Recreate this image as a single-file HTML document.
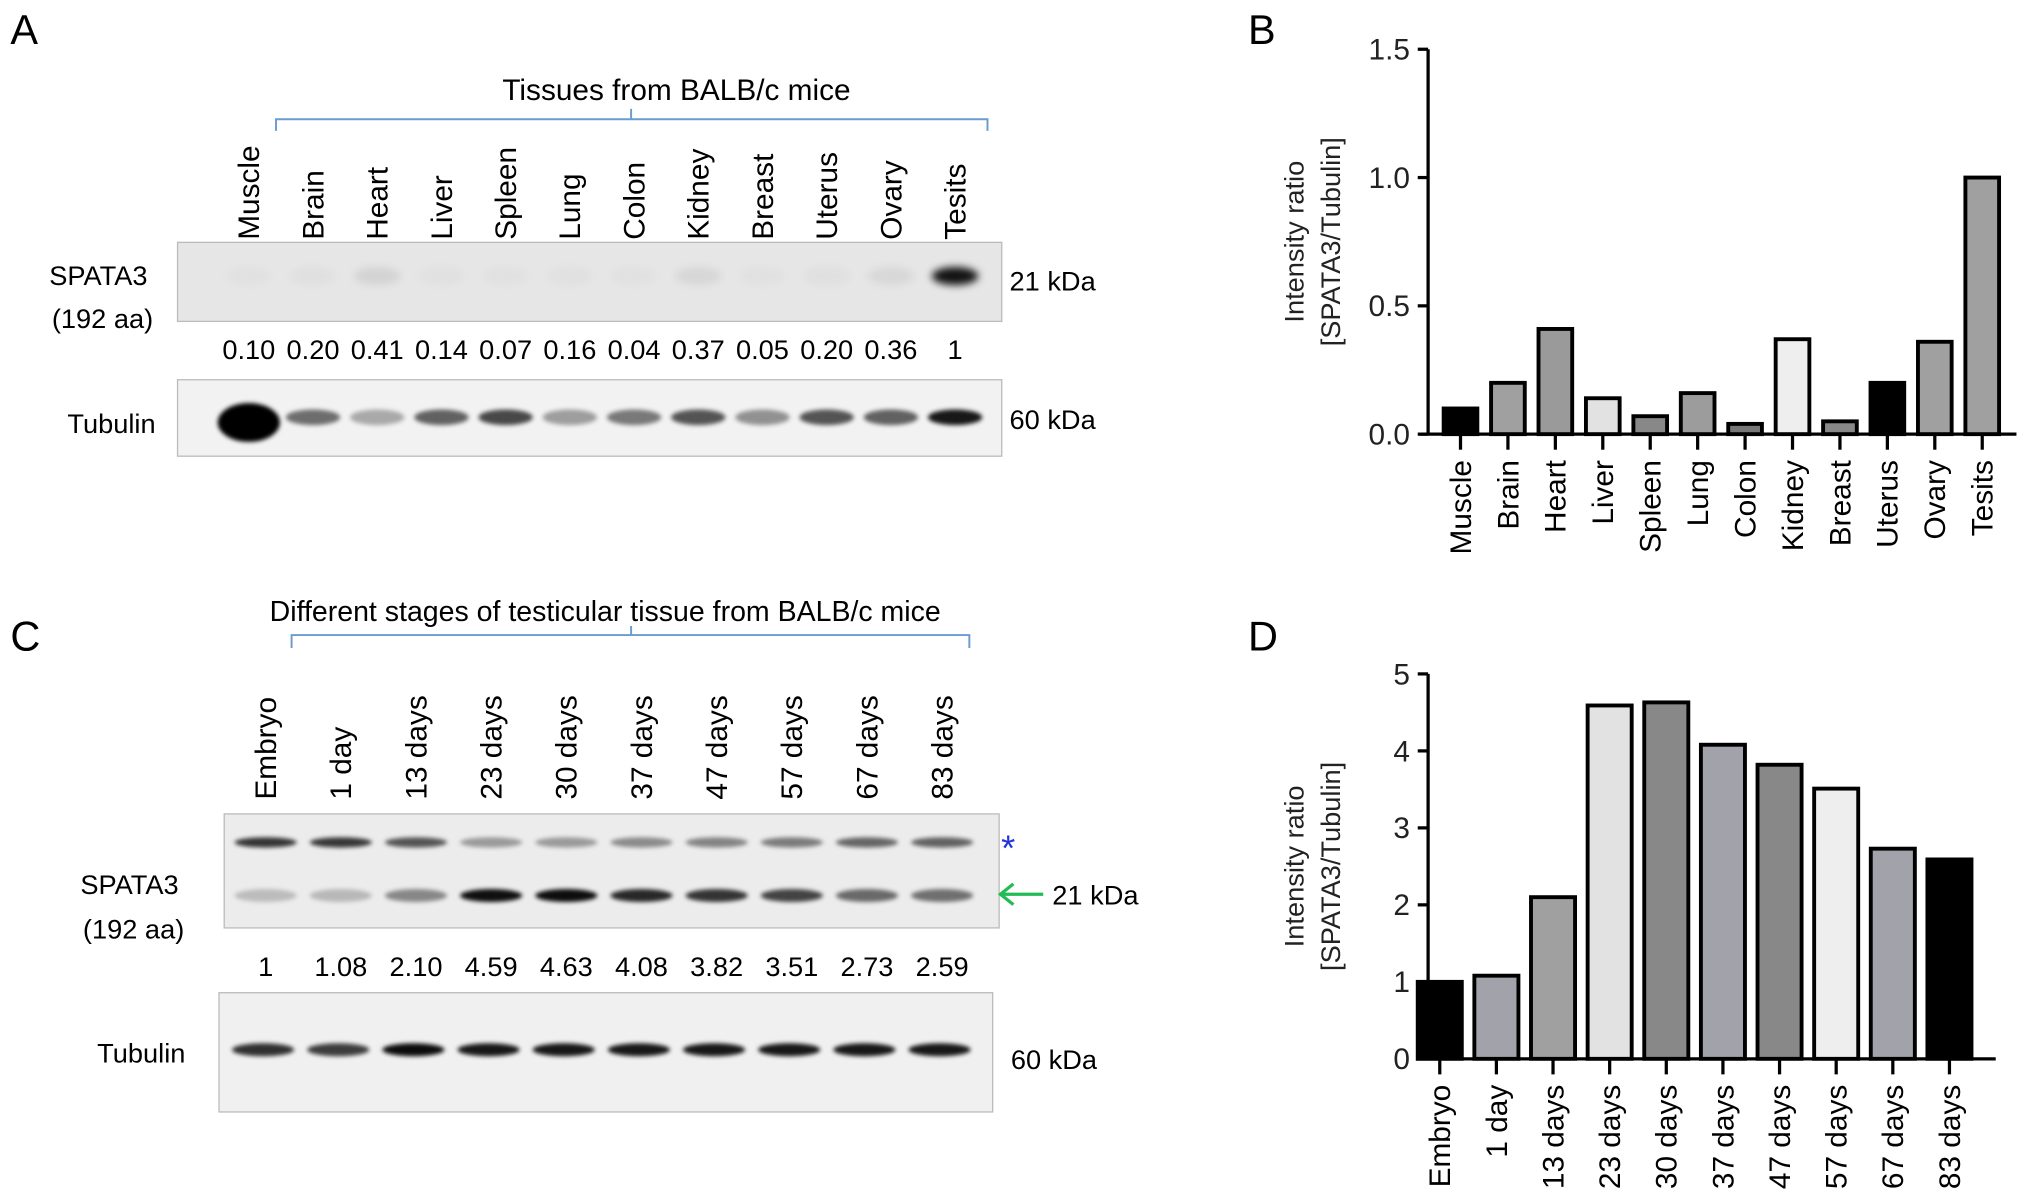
<!DOCTYPE html>
<html><head><meta charset="utf-8"><style>
html,body{margin:0;padding:0;background:#fff;}
svg{display:block;font-family:"Liberation Sans",Arial,sans-serif;}
</style></head><body>
<svg id="fig" width="2032" height="1201" viewBox="0 0 1568 926.7" preserveAspectRatio="none" xmlns="http://www.w3.org/2000/svg">
<defs><filter id="blur" x="-50%" y="-100%" width="200%" height="300%"><feGaussianBlur stdDeviation="3"/></filter>
<filter id="blur2" x="-50%" y="-100%" width="200%" height="300%"><feGaussianBlur stdDeviation="1.6"/></filter></defs>
<g id="panelA"></g>
<g id="panelC"></g>
<g id="chartB"></g>
<g id="chartD"></g>
</svg>
<script>
const tissues=["Muscle","Brain","Heart","Liver","Spleen","Lung","Colon","Kidney","Breast","Uterus","Ovary","Tesits"];
const tissueValues=[0.10,0.20,0.41,0.14,0.07,0.16,0.04,0.37,0.05,0.20,0.36,1];
const tissueLabels=["0.10","0.20","0.41","0.14","0.07","0.16","0.04","0.37","0.05","0.20","0.36","1"];
const tissueColors=["#000","#a0a0a0","#9a9a9a","#e2e2e2","#888","#9c9c9c","#777","#eee","#888","#000","#a0a0a0","#a0a0a0"];
const bTicks=[0,0.5,1.0,1.5];
const bTickLabels=["0.0","0.5","1.0","1.5"];
const stages=["Embryo","1 day","13 days","23 days","30 days","37 days","47 days","57 days","67 days","83 days"];
const stageValues=[1,1.08,2.10,4.59,4.63,4.08,3.82,3.51,2.73,2.59];
const stageLabels=["1","1.08","2.10","4.59","4.63","4.08","3.82","3.51","2.73","2.59"];
const stageColors=["#000","#a2a2aa","#a0a0a0","#e2e2e2","#888","#a2a2aa","#888","#eee","#a2a2aa","#000"];
const dTicks=[0,1,2,3,4,5];
const NS="http://www.w3.org/2000/svg";
function mk(parent,tag,attrs,text){const e=document.createElementNS(NS,tag);for(const k in attrs)e.setAttribute(k,attrs[k]);if(text!==undefined)e.textContent=text;parent.appendChild(e);return e;}

// Panel A
const A=document.getElementById('panelA');
let t=mk(A,'text',{x:8,y:34,'font-size':32},'A');

t=mk(A,'text',{x:522,y:77,'font-size':23,'text-anchor':'middle'},'Tissues from BALB/c mice');

let br=mk(A,'path',{d:'M213,101 V92 H762 V101 M487,92 V84',stroke:'#6a9bd1','stroke-width':1.5,fill:'none'});

const laneA=i=>192+i*(737-192)/11;
tissues.forEach((n,i)=>{const tx=mk(A,'text',{transform:`translate(${laneA(i)+8},185) rotate(-90)`,'font-size':23},n);
});
let box=mk(A,'rect',{x:137,y:187,width:636,height:61,fill:'#e6e6e6',stroke:'#bbb'});

tissueValues.forEach((v,i)=>{const b=mk(A,'ellipse',{cx:laneA(i),cy:213,rx:18,ry:7,fill:'#000','fill-opacity':Math.min(0.95,v*v*v*0.9+0.02),filter:'url(#blur)'});
});
mk(A,'text',{x:38,y:220,'font-size':21},'SPATA3');
mk(A,'text',{x:40,y:253,'font-size':21},'(192 aa)');
mk(A,'text',{x:779,y:224,'font-size':21},'21 kDa');
tissueLabels.forEach((l,i)=>{const tx=mk(A,'text',{x:laneA(i),y:277,'font-size':21,'text-anchor':'middle'},l);
});
box=mk(A,'rect',{x:137,y:293,width:636,height:59,fill:'#f2f2f2',stroke:'#bbb'});

const tubA=[1,0.55,0.3,0.6,0.7,0.35,0.5,0.65,0.4,0.65,0.6,0.9];
tubA.forEach((v,i)=>{const b=mk(A,'ellipse',{cx:laneA(i),cy:i===0?326:322,rx:i===0?24:21,ry:i===0?15:6,fill:'#000','fill-opacity':v,filter:'url(#blur2)'});
});
mk(A,'text',{x:52,y:334,'font-size':21},'Tubulin');
mk(A,'text',{x:779,y:331,'font-size':21},'60 kDa');

// Panel C
const C=document.getElementById('panelC');
mk(C,'text',{x:8,y:502,'font-size':32},'C');
mk(C,'text',{x:467,y:479,'font-size':22,'text-anchor':'middle'},'Different stages of testicular tissue from BALB/c mice');
br=mk(C,'path',{d:'M225,500 V490 H748 V500 M487,490 V483',stroke:'#6a9bd1','stroke-width':1.5,fill:'none'});

const laneC=i=>205+i*(727-205)/9;
stages.forEach((n,i)=>{const tx=mk(C,'text',{transform:`translate(${laneC(i)+8},617) rotate(-90)`,'font-size':23},n);
});
box=mk(C,'rect',{x:173,y:628,width:598,height:88,fill:'#ececec',stroke:'#bbb'});

stageValues.forEach((v,i)=>{
 const u=mk(C,'ellipse',{cx:laneC(i),cy:650,rx:24,ry:4,fill:'#000','fill-opacity':Math.max(0.35,0.9-v*0.12),filter:'url(#blur2)'});
 
 const b=mk(C,'ellipse',{cx:laneC(i),cy:691,rx:24,ry:5,fill:'#000','fill-opacity':Math.min(0.95,v/4.9),filter:'url(#blur2)'});
 });
mk(C,'text',{x:778,y:664,'font-size':28,fill:'#2233dd','text-anchor':'middle'},'*');
mk(C,'path',{d:'M805,690 H772 M782,682 L772,690 L782,698',stroke:'#22bb55','stroke-width':2.5,fill:'none'});
mk(C,'text',{x:812,y:698,'font-size':21},'21 kDa');
mk(C,'text',{x:62,y:690,'font-size':21},'SPATA3');
mk(C,'text',{x:64,y:724,'font-size':21},'(192 aa)');
stageLabels.forEach((l,i)=>{const tx=mk(C,'text',{x:laneC(i),y:753,'font-size':21,'text-anchor':'middle'},l);
});
box=mk(C,'rect',{x:169,y:766,width:597,height:92,fill:'#f0f0f0',stroke:'#bbb'});

[0.8,0.75,0.95,0.9,0.9,0.9,0.9,0.9,0.9,0.9].forEach((v,i)=>{const b=mk(C,'ellipse',{cx:laneC(i)-2,cy:810,rx:24,ry:5,fill:'#000','fill-opacity':v,filter:'url(#blur2)'});
});
mk(C,'text',{x:75,y:820,'font-size':21},'Tubulin');
mk(C,'text',{x:780,y:825,'font-size':21},'60 kDa');

// Bar chart helper
function barChart(g,cfg){
 const y=v=>cfg.y0-(v-cfg.vmin)/(cfg.vmax-cfg.vmin)*(cfg.y0-cfg.y1);
 const x=i=>cfg.x0+i*cfg.step;
 mk(g,'text',{x:cfg.lx,y:cfg.ly,'font-size':32},cfg.letter);
 mk(g,'line',{x1:cfg.ax,y1:y(cfg.vmax),x2:cfg.ax,y2:cfg.y0,stroke:'#000','stroke-width':2.5});
 mk(g,'line',{x1:cfg.ax-6,y1:cfg.y0,x2:cfg.xend,y2:cfg.y0,stroke:'#000','stroke-width':2.5});
 cfg.ticks.forEach((tv,k)=>{
  const l=mk(g,'line',{x1:cfg.ax-8,y1:y(tv),x2:cfg.ax,y2:y(tv),stroke:'#000','stroke-width':2.5});
  
  const tx=mk(g,'text',{x:cfg.ax-14,y:y(tv)+8,'font-size':23,'text-anchor':'end',fill:'#222'},cfg.tickLabels[k]);
  });
 const cy=(cfg.y0+y(cfg.vmax))/2;
 mk(g,'text',{transform:`translate(1006,${cy}) rotate(-90)`,'font-size':21,'text-anchor':'middle',fill:'#222'},'Intensity ratio');
 mk(g,'text',{transform:`translate(1034,${cy}) rotate(-90)`,'font-size':21,'text-anchor':'middle',fill:'#222'},'[SPATA3/Tubulin]');
 cfg.values.forEach((v,i)=>{
  const r=mk(g,'rect',{x:x(i)-cfg.bw/2,y:y(v),width:cfg.bw,height:cfg.y0-y(v),fill:cfg.colors[i],stroke:'#000','stroke-width':3});
  
  const tk=mk(g,'line',{x1:x(i),y1:cfg.y0,x2:x(i),y2:cfg.y0+12,stroke:'#000','stroke-width':2.5});
  
  const tx=mk(g,'text',{transform:`translate(${x(i)+8},${cfg.y0+20}) rotate(-90)`,'font-size':23,'text-anchor':'end'},cfg.cats[i]);
  });
}
barChart(document.getElementById('chartB'),{letter:'B',lx:963,ly:34,ax:1102,y0:335,y1:38,vmin:0,vmax:1.5,x0:1127,step:36.6,bw:26,xend:1556,
 ticks:bTicks,tickLabels:bTickLabels,values:tissueValues,colors:tissueColors,cats:tissues});
barChart(document.getElementById('chartD'),{letter:'D',lx:963,ly:502,ax:1102,y0:817,y1:520,vmin:0,vmax:5,x0:1111,step:43.7,bw:34,xend:1540,
 ticks:dTicks,tickLabels:dTicks.map(String),values:stageValues,colors:stageColors,cats:stages});
</script>
</body></html>
